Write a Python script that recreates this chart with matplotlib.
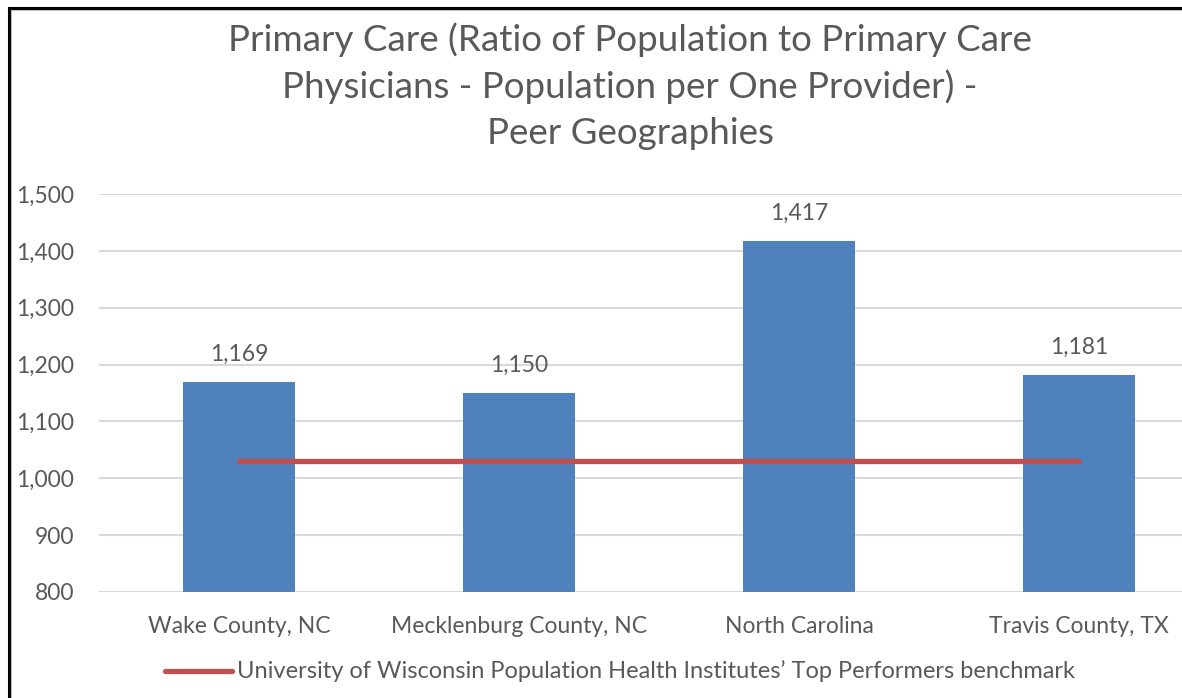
import matplotlib
matplotlib.use("Agg")
import matplotlib.pyplot as plt
from matplotlib.lines import Line2D
from matplotlib.ticker import FuncFormatter

categories = ["Wake County, NC", "Mecklenburg County, NC", "North Carolina", "Travis County, TX"]
values = [1169, 1150, 1417, 1181]
benchmark = [1030, 1030, 1030, 1030]
benchmark_label = "University of Wisconsin Population Health Institutes\u2019 Top Performers benchmark"
title_lines = ["Primary Care (Ratio of Population to Primary Care",
               "Physicians - Population per One Provider) -",
               "Peer Geographies"]
yticks = [800, 900, 1000, 1100, 1200, 1300, 1400, 1500]

W, H = 1182, 698
plt.rcParams['font.family'] = ['Lato', 'DejaVu Sans']
TXT = '#595959'
BAR = '#4F81BD'
RED = '#C0504D'

fig = plt.figure(figsize=(W / 100, H / 100), dpi=100)
fig.patch.set_facecolor('white')

ax_left, ax_right = 99, 1219
ax_top, ax_bottom = 194, 592
ax = fig.add_axes([ax_left / W, (H - ax_bottom) / H, (ax_right - ax_left) / W, (ax_bottom - ax_top) / H])

x = list(range(len(categories)))
ax.bar(x, [v - 800 for v in values], bottom=800, width=0.4, color=BAR, zorder=2)
ax.plot(x, benchmark, color=RED, linewidth=3.8, solid_capstyle='round', zorder=3)

for xi, v in zip(x, values):
    ax.annotate(f"{v:,}", (xi, v), xytext=(0, 20), textcoords='offset points',
                ha='center', va='center', fontsize=16.5, color=TXT)

ax.set_xlim(-0.5, len(categories) - 0.5)
ax.set_ylim(800, 1500)
ax.set_yticks(yticks)
ax.yaxis.set_major_formatter(FuncFormatter(lambda v, p: f"{int(v):,}"))
ax.set_xticks(x)
ax.set_xticklabels(categories)
ax.tick_params(axis='both', length=0, labelsize=16.5, colors=TXT, labelcolor=TXT)
ax.tick_params(axis='x', pad=17)
ax.tick_params(axis='y', pad=18)
ax.grid(axis='y', color='#D9D9D9', linewidth=1.5, zorder=0)
ax.set_axisbelow(True)
for s in ax.spines.values():
    s.set_visible(False)

# title
for i, line in enumerate(title_lines):
    fig.text(630 / W, 1 - (40 + 47 * i) / H, line, ha='center', va='center',
             fontsize=26.5, color=TXT)

# legend
fig.add_artist(Line2D([165 / W, 232 / W], [1 - 671 / H, 1 - 671 / H], color=RED,
                      linewidth=3.8, solid_capstyle='round'))
fig.text(237 / W, 1 - 671 / H, benchmark_label, ha='left', va='center', fontsize=17, color=TXT)

# frame
fig.add_artist(Line2D([8.5 / W, 8.5 / W], [0, 1 - 7.5 / H], color='black', linewidth=2.2))
fig.add_artist(Line2D([8.5 / W, 1], [1 - 7.5 / H, 1 - 7.5 / H], color='black', linewidth=2.2))
fig.add_artist(Line2D([11 / W, 11 / W], [0, 1 - 10 / H], color='#BBBBBB', linewidth=0.8))
fig.add_artist(Line2D([11 / W, 1], [1 - 10 / H, 1 - 10 / H], color='#BBBBBB', linewidth=0.8))

fig.savefig("out.png", dpi=100)
